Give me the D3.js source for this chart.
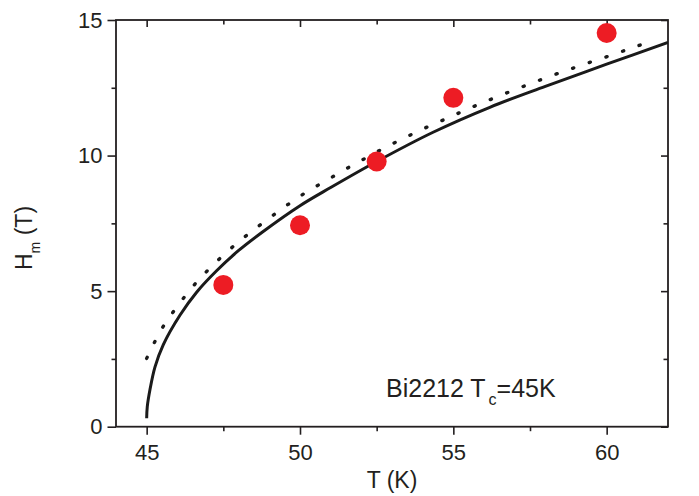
<!DOCTYPE html>
<html>
<head>
<meta charset="utf-8">
<script src="https://cdn.jsdelivr.net/npm/d3@7"></script>
<style>
  html, body { margin: 0; padding: 0; background: #fff; }
  svg { display: block; font-family: "Liberation Sans", Arial, Helvetica, sans-serif; }
</style>
</head>
<body>
<svg id="chart" width="699" height="496"></svg>
<script>
// ---- data ----
const measuredT = [47.5, 50, 52.5, 55, 60];
const measuredH = [5.23, 7.43, 9.78, 12.13, 14.52];

const solidT = [45.0, 45.02, 45.11, 45.27, 45.54, 46.09, 46.63, 47.28, 48.0, 48.8, 50.0, 51.0, 52.5, 54.34, 56.19, 58.0, 60.0, 62.0];
const solidH = [0.31, 0.74, 1.38, 2.2, 3.02, 4.12, 4.96, 5.75, 6.5, 7.2, 8.15, 8.82, 9.78, 10.86, 11.78, 12.55, 13.37, 14.17];

const dottedT = [45.0, 45.25, 45.53, 45.87, 46.25, 46.66, 47.11, 47.61, 48.12, 48.63, 49.14, 49.65, 50.15, 50.67, 51.19, 51.69, 52.21, 52.71, 53.22, 53.73, 54.24, 54.75, 55.26, 55.77, 56.28, 56.85, 57.42, 57.93, 58.46, 58.97, 59.48, 59.99, 60.50, 61.0, 61.52];
const dottedH = [2.52, 3.10, 3.68, 4.24, 4.81, 5.37, 5.90, 6.44, 6.93, 7.38, 7.81, 8.23, 8.61, 8.96, 9.30, 9.63, 9.95, 10.26, 10.55, 10.83, 11.10, 11.35, 11.61, 11.86, 12.10, 12.36, 12.61, 12.83, 13.05, 13.25, 13.45, 13.64, 13.84, 14.04, 14.22];

const xMajorTicks = [45, 50, 55, 60];
const xMinorTicks = [47.5, 52.5, 57.5];
const yMajorTicks = [0, 5, 10, 15];
const yMinorTicks = [2.5, 7.5, 12.5];

const xTitle = "T (K)";
const yTitleMain = "H";
const yTitleSub = "m";
const yTitleRest = " (T)";
const noteMain = "Bi2212 T";
const noteSub = "c";
const noteRest = "=45K";

// ---- layout ----
const plotLeft = 116, plotRight = 668, plotTop = 20, plotBottom = 426.7;
const svg = d3.select("#chart");
const x = d3.scaleLinear().domain([44, 62]).range([plotLeft, plotRight]);
const y = d3.scaleLinear().domain([0, 15]).range([plotBottom, plotTop]);

const axisColor = "#231f20";
const fontSize = 22;

function styleAxis(g) {
  g.select(".domain").remove();
  g.selectAll(".tick line").attr("stroke", axisColor).attr("stroke-width", 1.6);
  g.selectAll(".tick text").attr("fill", axisColor).attr("font-size", fontSize)
    .attr("font-family", "'Liberation Sans', Arial, sans-serif");
}

// bottom axis (outward ticks)
svg.append("g").attr("transform", `translate(0,${plotBottom})`)
  .call(d3.axisBottom(x).tickValues(xMajorTicks).tickSize(8).tickPadding(9.5).tickFormat(d3.format("d")))
  .call(styleAxis);
svg.append("g").attr("transform", `translate(0,${plotBottom})`)
  .call(d3.axisBottom(x).tickValues(xMinorTicks).tickSize(4.5).tickFormat(""))
  .call(styleAxis);
// top axis (inward ticks)
svg.append("g").attr("transform", `translate(0,${plotTop})`)
  .call(d3.axisBottom(x).tickValues(xMajorTicks).tickSize(7).tickFormat(""))
  .call(styleAxis);
svg.append("g").attr("transform", `translate(0,${plotTop})`)
  .call(d3.axisBottom(x).tickValues(xMinorTicks).tickSize(4.5).tickFormat(""))
  .call(styleAxis);
// left axis (outward ticks)
svg.append("g").attr("transform", `translate(${plotLeft},0)`)
  .call(d3.axisLeft(y).tickValues(yMajorTicks).tickSize(8.5).tickPadding(5).tickFormat(d3.format("d")))
  .call(styleAxis);
svg.append("g").attr("transform", `translate(${plotLeft},0)`)
  .call(d3.axisLeft(y).tickValues(yMinorTicks).tickSize(4.5).tickFormat(""))
  .call(styleAxis);
// right axis (inward ticks)
svg.append("g").attr("transform", `translate(${plotRight},0)`)
  .call(d3.axisLeft(y).tickValues(yMajorTicks).tickSize(7).tickFormat(""))
  .call(styleAxis);
svg.append("g").attr("transform", `translate(${plotRight},0)`)
  .call(d3.axisLeft(y).tickValues(yMinorTicks).tickSize(4.5).tickFormat(""))
  .call(styleAxis);

// frame
svg.append("rect").attr("x", plotLeft).attr("y", plotTop)
  .attr("width", plotRight - plotLeft).attr("height", plotBottom - plotTop)
  .attr("fill", "none").attr("stroke", axisColor).attr("stroke-width", 1.8);

// clip
svg.append("clipPath").attr("id", "clip").append("rect")
  .attr("x", plotLeft).attr("y", plotTop).attr("width", plotRight - plotLeft).attr("height", plotBottom - plotTop);

const line = d3.line().x(d => x(d[0])).y(d => y(d[1])).curve(d3.curveCatmullRom.alpha(0.5));

// dotted curve
svg.append("path")
  .datum(dottedT.map((t, i) => [t, dottedH[i]]))
  .attr("d", line)
  .attr("fill", "none")
  .attr("stroke", "#1a1a1a")
  .attr("stroke-width", 3.4)
  .attr("stroke-linecap", "round")
  .attr("stroke-dasharray", "1.2,16.4")
  .attr("clip-path", "url(#clip)");

// solid curve
svg.append("path")
  .datum(solidT.map((t, i) => [t, solidH[i]]))
  .attr("d", line)
  .attr("fill", "none")
  .attr("stroke", "#1a1a1a")
  .attr("stroke-width", 3)
  .attr("clip-path", "url(#clip)");

// measured points
svg.append("g").selectAll("circle")
  .data(measuredT.map((t, i) => [t, measuredH[i]]))
  .join("circle")
  .attr("cx", d => x(d[0]))
  .attr("cy", d => y(d[1]))
  .attr("r", 10)
  .attr("fill", "#ed1c24");

// x title
svg.append("text")
  .attr("x", (plotLeft + plotRight) / 2).attr("y", 488)
  .attr("text-anchor", "middle")
  .attr("font-size", 23).attr("fill", axisColor)
  .text(xTitle);

// y title
const yt = svg.append("text")
  .attr("transform", "translate(32,270) rotate(-90)")
  .attr("font-size", 23).attr("fill", axisColor);
yt.append("tspan").text(yTitleMain);
yt.append("tspan").attr("font-size", 14).attr("dy", 8).text(yTitleSub);
yt.append("tspan").attr("dy", -8).text(yTitleRest);

// annotation
const note = svg.append("text")
  .attr("x", 386).attr("y", 397)
  .attr("font-size", 25).attr("fill", axisColor);
note.append("tspan").text(noteMain);
note.append("tspan").attr("font-size", 16).attr("dy", 8).attr("dx", 3).text(noteSub);
note.append("tspan").attr("dy", -8).text(noteRest);
</script>
</body>
</html>
